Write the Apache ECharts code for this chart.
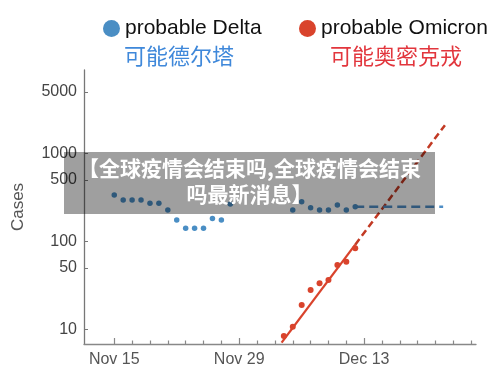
<!DOCTYPE html>
<html>
<head>
<meta charset="utf-8">
<script src="https://cdn.jsdelivr.net/npm/echarts@6/dist/echarts.min.js"></script>
<style>html,body{margin:0;padding:0;background:#fff}#c{width:500px;height:368px}</style>
</head>
<body>
<div id="c"></div>
<script>
// ---- data ----
const baseDate = '2021-11-15';
const deltaDates = ['2021-11-15','2021-11-16','2021-11-17','2021-11-18','2021-11-19','2021-11-20','2021-11-21','2021-11-22','2021-11-23','2021-11-24','2021-11-25','2021-11-26','2021-11-27','2021-11-28',
  '2021-12-05','2021-12-06','2021-12-07','2021-12-08','2021-12-09','2021-12-10','2021-12-11','2021-12-12'];
const deltaCases = [336,294,294,294,270,270,227,175,141,141,141,182,175,265,
  227,282,241,227,227,258,227,247];
const omicronDates = ['2021-12-04','2021-12-05','2021-12-06','2021-12-07','2021-12-08','2021-12-09','2021-12-10','2021-12-11','2021-12-12'];
const omicronCases = [8.4,10.7,18.9,28,33.3,36.3,53.8,58.6,83.2];
// fitted trends: observed part (solid) and projection (dashed)
const omicronFitDays = [18.75, 27, 37.05];        // days after Nov 15
const omicronFitCases = [7.05, 91.6, 2090];
const deltaFitDays = [27, 36.85];
const deltaFitCases = [247, 247];
const yTickValues = [10, 50, 100, 500, 1000, 5000];
const xLabelDays = [0, 14, 28];
const xMinorDays = [2,4,6,8,10,12,16,18,20,22,24,26,30,32,34,36,38,40];
const seriesNames = ['probable Delta', 'probable Omicron'];
const zhNames = ['可能德尔塔', '可能奥密克戎'];
const bannerText = '【全球疫情会结束吗,全球疫情会结束\n吗最新消息】';

// ---- helpers ----
const MS_DAY = 86400000;
const base = Date.parse(baseDate + 'T00:00:00Z');
const dayOf = s => (Date.parse(s + 'T00:00:00Z') - base) / MS_DAY;
const months = ['Jan','Feb','Mar','Apr','May','Jun','Jul','Aug','Sep','Oct','Nov','Dec'];
const fmtDay = d => { const t = new Date(base + Math.round(d) * MS_DAY); return months[t.getUTCMonth()] + ' ' + t.getUTCDate(); };
const lg = v => Math.log10(v);

const BLUE = '#4a8ec4', RED = '#d9432c';
const LATIN = '"Liberation Sans", Arial, sans-serif';
const CJK = '"Noto Sans CJK SC", sans-serif';

const chart = echarts.init(document.getElementById('c'), null, {renderer: 'canvas'});
chart.setOption({
  animation: false,
  backgroundColor: '#fff',
  grid: {left: 84, right: 24, top: 70, bottom: 24, containLabel: false},
  legend: [
    {data: [{name: seriesNames[0], icon: 'circle'}], left: 98, top: 13, itemWidth: 17, itemHeight: 17, itemGap: 0,
     textStyle: {fontSize: 21, color: '#111', fontFamily: LATIN}},
    {data: [{name: seriesNames[1], icon: 'circle'}], left: 294, top: 13, itemWidth: 17, itemHeight: 17, itemGap: 0,
     textStyle: {fontSize: 21, color: '#111', fontFamily: LATIN}}
  ],
  xAxis: [
    {type: 'value', min: -3.39, max: 40.53, position: 'bottom',
     axisLine: {show: true, onZero: false, lineStyle: {color: '#888', width: 1.3}},
     axisTick: {show: true, inside: true, length: 6, customValues: xLabelDays, lineStyle: {color: '#888', width: 1.2}},
     axisLabel: {customValues: xLabelDays, formatter: v => fmtDay(v), fontSize: 16, color: '#555', fontFamily: LATIN, margin: 8},
     splitLine: {show: false}},
    {type: 'value', min: -3.39, max: 40.53, position: 'bottom',
     axisLine: {show: false, onZero: false},
     axisTick: {show: true, inside: true, length: 3.5, customValues: xMinorDays, lineStyle: {color: '#888', width: 1.2}},
     axisLabel: {show: false},
     splitLine: {show: false}}
  ],
  yAxis: {
    type: 'value', min: 0.833, max: 3.947,
    name: 'Cases', nameLocation: 'middle', nameRotate: 90, nameGap: 57,
    nameTextStyle: {fontSize: 17, color: '#555', fontFamily: LATIN},
    axisLine: {show: true, onZero: false, lineStyle: {color: '#777', width: 1.3}},
    axisTick: {show: true, inside: true, length: 4, customValues: yTickValues.map(lg), lineStyle: {color: '#777'}},
    axisLabel: {customValues: yTickValues.map(lg), formatter: v => String(Math.round(Math.pow(10, v))),
      fontSize: 16, color: '#444', fontFamily: LATIN, margin: 7},
    splitLine: {show: false}
  },
  series: [
    {name: seriesNames[0], type: 'scatter', symbol: 'circle', symbolSize: 5.5, itemStyle: {color: BLUE, opacity: 1},
     data: deltaDates.map((d, i) => [dayOf(d), lg(deltaCases[i])]), z: 3},
    {name: seriesNames[1], type: 'scatter', symbol: 'circle', symbolSize: 6, itemStyle: {color: RED, opacity: 1},
     data: omicronDates.map((d, i) => [dayOf(d), lg(omicronCases[i])]), z: 3},
    {name: 'omicron fit', type: 'line', showSymbol: false, silent: true,
     lineStyle: {color: RED, width: 2.3},
     data: omicronFitDays.slice(0, 2).map((d, i) => [d, lg(omicronFitCases[i])]), z: 2},
    {name: 'omicron projection', type: 'line', showSymbol: false, silent: true,
     lineStyle: {color: '#c23a24', width: 2.5, type: [7, 4]},
     data: omicronFitDays.slice(1).map((d, i) => [d, lg(omicronFitCases[i + 1])]), z: 2},
    {name: 'delta projection', type: 'line', showSymbol: false, silent: true,
     lineStyle: {color: '#4f8ec6', width: 2.5, type: [9, 5]},
     data: deltaFitDays.map((d, i) => [d, lg(deltaFitCases[i])]), z: 2}
  ],
  graphic: [
    {type: 'text', left: 124, top: 45, z: 10,
     style: {text: zhNames[0], fill: '#3f88da', font: '22px ' + CJK}},
    {type: 'text', left: 330, top: 45, z: 10,
     style: {text: zhNames[1], fill: '#e2363d', font: '22px ' + CJK}},
    {type: 'rect', shape: {x: 64, y: 152, width: 371, height: 62}, z: 100,
     style: {fill: 'rgba(0,0,0,0.375)'}},
    {type: 'text', x: 249.5, y: 181, z: 101,
     style: {text: bannerText, fill: '#fff', font: 'bold 21px ' + CJK, align: 'center', verticalAlign: 'middle', lineHeight: 26}}
  ]
});
</script>
</body>
</html>
